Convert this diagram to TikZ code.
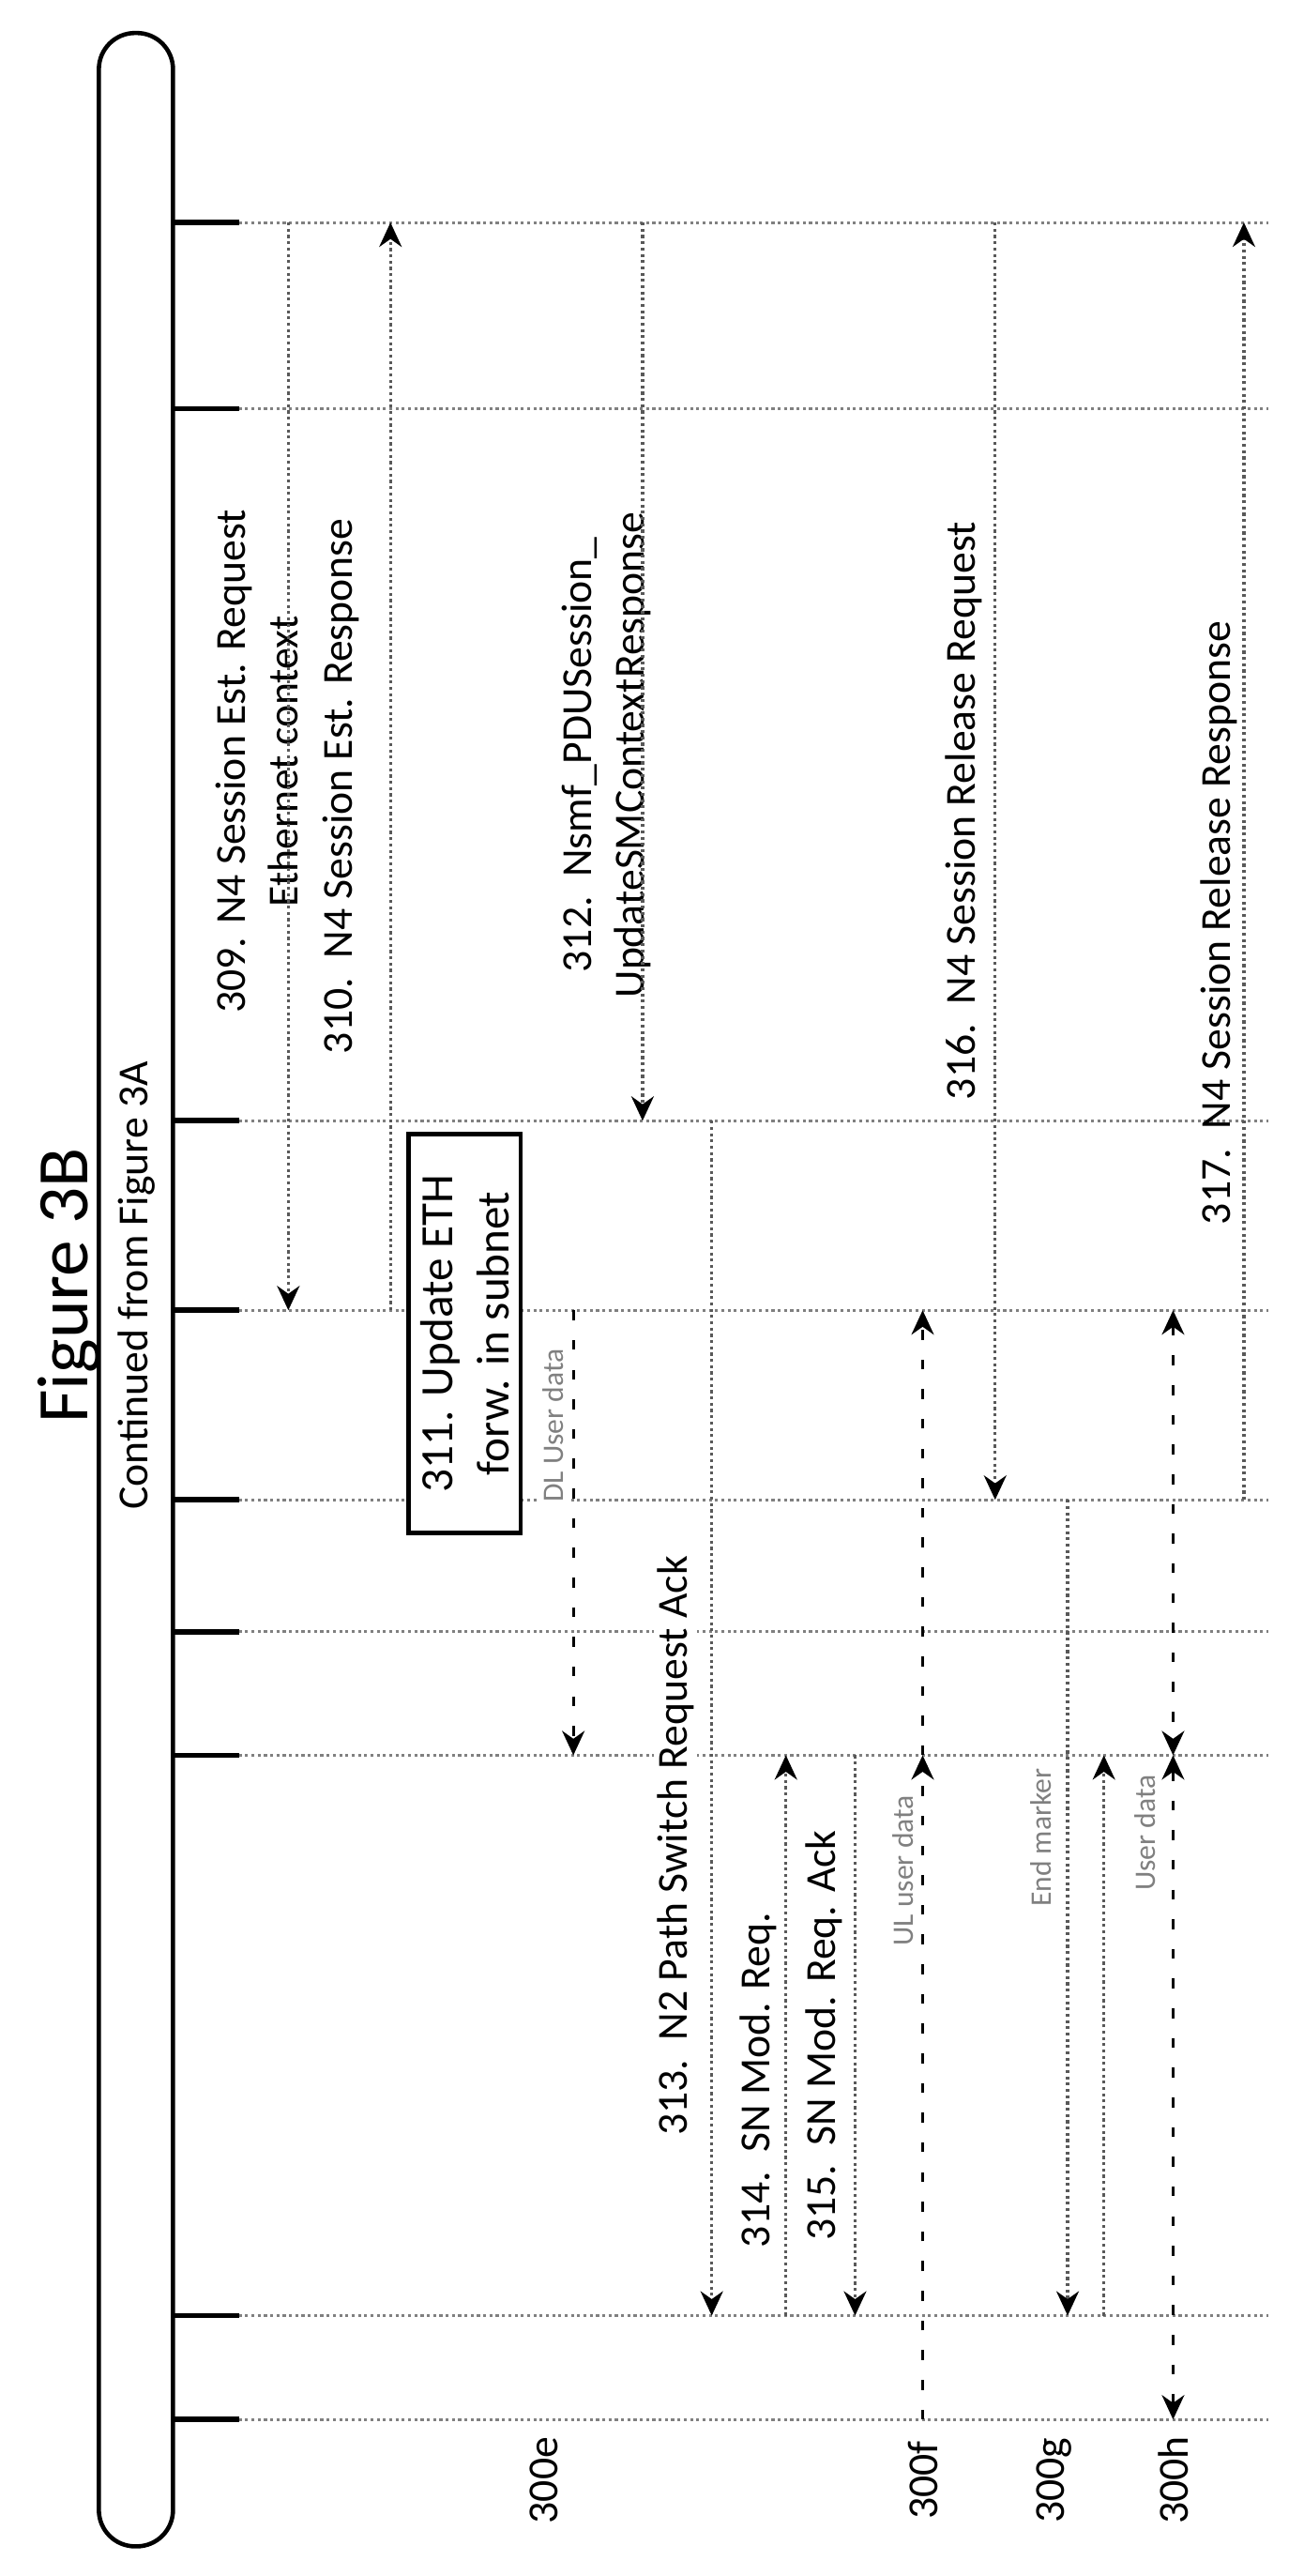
\documentclass[tikz,border=0pt]{standalone}
\usepackage{fontspec}
\setmainfont{Carlito}
\usetikzlibrary{arrows.meta}

\begin{document}
\begin{tikzpicture}[
  x=0.1756mm, y=-0.1756mm,
  life solid/.style={line width=1.6pt},
  life/.style={line width=0.9pt, gray, densely dotted},
  msg/.style={line width=0.9pt, gray!70!black, densely dotted, -{Stealth[black,length=2.6mm,width=2.4mm]}},
  data/.style={line width=0.8pt, loosely dashed, -{Stealth[black,length=2.6mm,width=2.4mm]}},
  data both/.style={data, {Stealth[black,length=2.6mm,width=2.4mm]}-{Stealth[black,length=2.6mm,width=2.4mm]}},
  label/.style={rotate=90, font=\fontsize{13}{16}\selectfont, align=center, inner sep=1pt},
  cut label/.style={label, fill=white},
  data label/.style={rotate=90, font=\fontsize{9}{11}\selectfont, text=gray, fill=white, inner sep=1pt},
  note/.style={draw, line width=1.4pt, fill=white, rotate=90, align=center,
    font=\fontsize{14}{17}\selectfont, minimum width=242*0.1756mm, minimum height=68*0.1756mm, inner sep=1pt},
  ]
  \useasboundingbox (0,0) rectangle (791,1563);
  % frame and title
  \draw[line width=1.3pt, rounded corners=22*0.1756mm] (60,20) rectangle (105,1545);
  \node[rotate=90, font=\fontsize{22}{26}\selectfont] (title) at (42,780) {Figure 3B};
  \node[label] (cont) at (83,780) {Continued from Figure 3A};

  % lifelines
  \foreach \y [count=\i] in {135,248,680,795,910,990,1065,1405,1468} {
    \coordinate (L\i) at (145,\y);
    \draw[life solid] (105,\y) -- (L\i);
    \draw[life] (L\i) -- (770,\y);
  }

  % labels
  \node[label] (l309) at (156,462) {309. N4 Session Est. Request\\Ethernet context};
  \node[label] (l310) at (207,477) {310.\ \ N4 Session Est. Response};
  \node[cut label] (l312) at (368,458) {312.\ \ Nsmf\_PDUSession\_\\UpdateSMContextResponse};
  \node[cut label] (l313) at (410,1120) {313.\ \ N2 Path Switch Request Ack};
  \node[label] (l314) at (460,1262) {314.\ \ SN Mod. Req.};
  \node[label] (l315) at (500,1235) {315.\ \ SN Mod. Req. Ack};
  \node[cut label] (l316) at (585,492) {316.\ \ N4 Session Release Request};
  \node[label] (l317) at (740,560) {317.\ \ N4 Session Release Response};
  \node[note] (n311) at (282,809) {311. Update ETH\\forw. in subnet};

  \node[data label] (dl) at (336,865) {DL User data};
  \node[data label] (ul) at (548,1135) {UL user data};
  \node[data label] (em) at (632,1115) {End marker};
  \node[data label] (ud) at (695,1112) {User data};

  \node[label] (e) at (330,1505) {300e};
  \node[label] (f) at (560,1505) {300f};
  \node[label] (g) at (640,1505) {300g};
  \node[label] (h) at (712,1505) {300h};

  % messages
  \draw[msg] (175,0 |- L1) -- (175,0 |- L4);
  \draw[msg] (237,0 |- L4) -- (237,0 |- L1);
  \draw[msg] (390,0 |- L1) -- (390,0 |- L3);
  \draw[msg] (432,0 |- L3) -- (432,0 |- L8);
  \draw[msg] (477,0 |- L8) -- (477,0 |- L7);
  \draw[msg] (519,0 |- L7) -- (519,0 |- L8);
  \draw[msg] (604,0 |- L1) -- (604,0 |- L5);
  \draw[msg] (755,0 |- L5) -- (755,0 |- L1);
  \draw[msg] (648,0 |- L5) -- (648,0 |- L8);
  \draw[msg] (670,0 |- L8) -- (670,0 |- L7);

  % user plane
  \draw[data] (348,0 |- L4) -- (348,0 |- L7);
  \draw[data] (560,0 |- L9) -- (560,0 |- L7);
  \draw[data] (560,0 |- L7) -- (560,0 |- L4);
  \draw[data both] (712,0 |- L4) -- (712,0 |- L7);
  \draw[data both] (712,0 |- L7) -- (712,0 |- L9);
\end{tikzpicture}
\end{document}
